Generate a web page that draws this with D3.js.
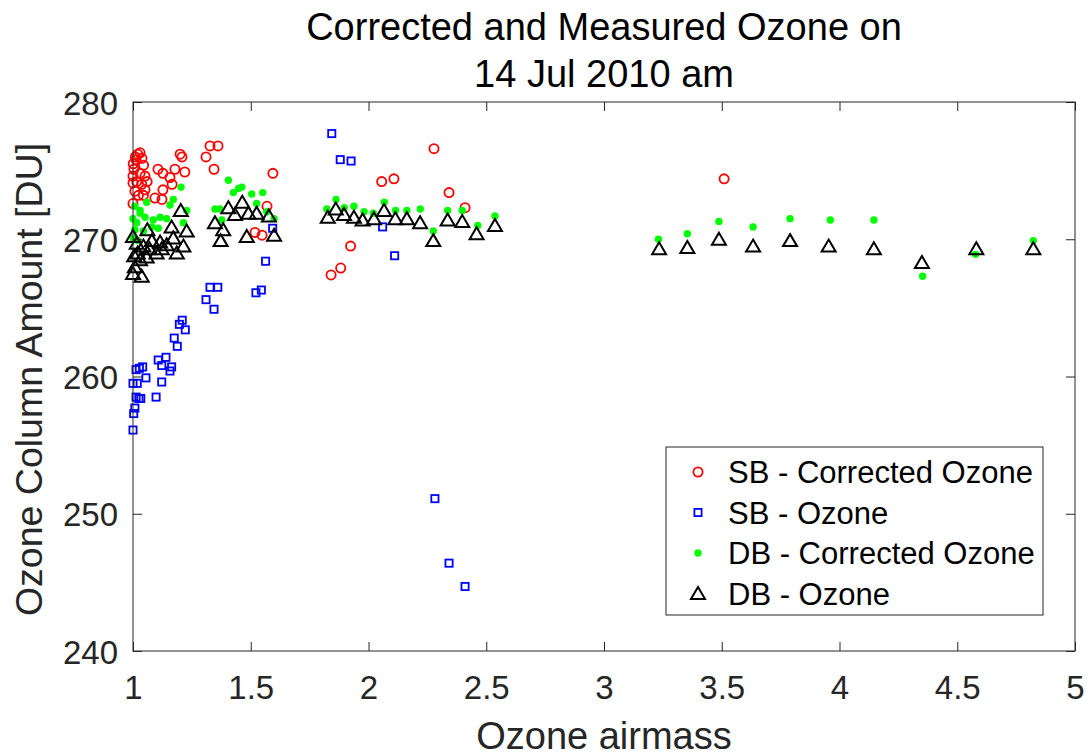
<!DOCTYPE html>
<html><head><meta charset="utf-8">
<script src="https://cdn.jsdelivr.net/npm/d3@7"></script>
<style>body{margin:0;background:#fff}svg text{font-family:"Liberation Sans",Arial,sans-serif}</style>
</head><body><svg id="c" width="1091" height="756"></svg>
<script>
const title = ["Corrected and Measured Ozone on", "14 Jul 2010 am"];
const xTicks = [1,1.5,2,2.5,3,3.5,4,4.5,5];
const yTicks = [240,250,260,270,280];
const seriesNames = ["SB - Corrected Ozone","SB - Ozone","DB - Corrected Ozone","DB - Ozone"];

// SB - Corrected Ozone [airmass, DU]
const sbCorrected = [
[1.327,276.8],[1.361,276.8],[1.31,276.0],[1.344,275.1],[1.594,274.8],[1.2,276.2],[1.208,276.0],
[1.02,276.2],[1.038,275.9],[1.106,275.1],[1.127,274.8],[1.178,275.1],[1.22,274.9],[1.157,274.5],
[1.166,274.0],[1.127,273.6],[1.093,273.0],[1.123,272.9],[1.569,272.4],[1.518,270.5],[1.548,270.3],
[1.0,272.6],[1.013,275.8],[1.001,275.5],[1.004,275.1],[1.03,274.8],[1.051,274.6],[1.016,274.2],
[1.037,274.0],[1.051,273.6],[1.008,273.5],[1.023,273.2],[1.0,274.6],[1.0,274.1],[1.044,273.2],
[1.03,276.3],[1.01,276.0],[1.045,275.4],[1.06,274.2],
[2.278,276.6],[2.056,274.2],[2.108,274.4],[2.342,273.4],[2.41,272.3],[1.924,269.5],[1.882,267.9],
[1.841,267.4],[3.51,274.4]
];
// SB - Ozone
const sbOzone = [
[1.844,277.7],[1.88,275.8],[1.926,275.7],[2.06,270.9],[2.111,268.8],[2.282,251.1],[2.342,246.4],
[2.41,244.7],[1.593,270.8],[1.563,268.4],[1.327,266.5],[1.36,266.5],[1.31,265.6],[1.344,264.9],
[1.522,266.1],[1.545,266.3],[1.209,264.1],[1.197,263.8],[1.222,263.4],[1.175,262.8],[1.188,262.2],
[1.14,261.4],[1.107,261.2],[1.122,260.8],[1.164,260.7],[1.157,260.4],[1.027,260.6],[1.013,260.5],
[1.041,260.7],[1.055,259.9],[1.0,259.5],[1.018,259.5],[1.122,259.6],[1.013,258.5],[1.033,258.4],
[1.098,258.5],[1.008,257.7],[1.003,257.3],[1.0,256.1],[1.025,258.4]
];
// DB - Corrected Ozone
const dbCorrected = [
[1.405,274.3],[1.448,273.7],[1.462,273.8],[1.426,273.4],[1.504,273.3],[1.551,273.4],[1.204,273.8],
[1.171,272.9],[1.157,272.5],[1.058,272.7],[1.008,272.4],[1.348,272.2],[1.369,272.2],[1.228,272.1],
[1.115,271.6],[1.143,271.5],[1.214,271.2],[1.03,271.9],[1.016,271.2],[1.525,272.6],[1.599,271.5],
[1.568,272.0],[1.377,271.4],[1.079,270.9],[1.107,270.8],[1.03,272.1],[1.051,271.6],[1.0,271.5],
[1.086,271.4],[1.008,270.7],[1.044,270.6],[1.0,270.1],[1.02,269.9],
[1.862,272.9],[1.823,272.2],[1.897,272.3],[1.938,272.4],[1.981,272.0],[2.02,271.9],[2.067,272.7],
[2.115,272.1],[2.163,272.1],[2.22,272.2],[2.275,270.6],[2.336,272.1],[2.398,272.1],[2.464,271.0],
[2.537,271.7],
[3.231,270.0],[3.354,270.4],[3.488,271.3],[3.633,270.9],[3.79,271.5],[3.961,271.4],[4.146,271.4],
[4.353,267.3],[4.578,268.9],[4.823,269.9]
];
// DB - Ozone
const dbOzone = [
[3.234,269.3],[3.354,269.4],[3.488,270.0],[3.633,269.5],[3.79,269.9],[3.954,269.5],[4.146,269.3],
[4.35,268.3],[4.581,269.3],[4.823,269.3],
[1.827,271.6],[1.861,272.2],[1.896,271.8],[1.938,271.6],[1.975,271.4],[2.023,271.5],[2.066,272.1],
[2.114,271.5],[2.163,271.5],[2.219,271.2],[2.275,269.9],[2.336,271.4],[2.398,271.3],[2.459,270.4],
[2.537,271.0],
[1.203,272.1],[1.464,272.7],[1.405,272.3],[1.433,271.8],[1.49,271.9],[1.525,271.9],[1.577,271.7],
[1.348,271.2],[1.383,270.7],[1.372,269.9],[1.483,270.2],[1.599,270.3],[1.164,270.9],[1.228,270.6],
[1.061,270.7],[1.171,270.1],[1.214,269.5],[1.008,268.0],[1.037,267.3],[1.0,267.5],[1.03,268.5],
[1.058,268.7],[1.1,269.0],[1.143,269.6],[1.122,269.3],[1.016,269.7],[1.0,270.2],[1.044,269.5],
[1.08,269.9],[1.186,269.0],[1.115,269.8],[1.02,269.0],[1.005,268.8],[1.07,269.3]
];

const svg = d3.select("#c");
const L = 133, R = 1075, T = 102, B = 651;
const x = d3.scaleLinear().domain([1,5]).range([L,R]);
const y = d3.scaleLinear().domain([240,280]).range([B,T]);
const axisCol = "#262626";

// title
svg.selectAll("text.title").data(title).enter().append("text")
  .attr("x", (L+R)/2).attr("y", (d,i)=>40+i*47).attr("text-anchor","middle")
  .attr("font-size", 38).attr("fill","#000").text(d=>d);

const plot = svg.append("g");
function drawMarker(g, k, cx, cy){
  if(k===0) g.append("circle").attr("cx",cx).attr("cy",cy).attr("r",4.6).attr("fill","none").attr("stroke","#ff0000").attr("stroke-width",1.8);
  else if(k===1) g.append("rect").attr("x",cx-3.6).attr("y",cy-3.6).attr("width",7.2).attr("height",7.2).attr("fill","none").attr("stroke","#0000ff").attr("stroke-width",1.8);
  else if(k===2) g.append("circle").attr("cx",cx).attr("cy",cy).attr("r",3.7).attr("fill","#00ff00");
  else g.append("path").attr("d",`M${cx},${cy-6.5}L${cx+7},${cy+5.5}L${cx-7},${cy+5.5}Z`).attr("fill","none").attr("stroke","#000").attr("stroke-width",2).attr("stroke-linejoin","miter");
}
[sbCorrected, sbOzone, dbCorrected, dbOzone].forEach((arr,k)=>{
  const g = plot.append("g");
  arr.forEach(d=>drawMarker(g,k,x(d[0]),y(d[1])));
});

// axes (MATLAB box with inward ticks)
const ax = svg.append("g");
const tf = "Liberation Sans, Arial, sans-serif";
ax.append("g").attr("transform",`translate(0,${B})`)
  .call(d3.axisBottom(x).tickValues(xTicks).tickSize(-9).tickPadding(0).tickFormat(d3.format("")))
  .call(g=>{g.select(".domain").remove();g.selectAll("line").attr("stroke",axisCol);
    g.selectAll("text").attr("font-size",33).attr("fill",axisCol).attr("font-family",tf).attr("y",48).attr("dy",0);});
ax.append("g").attr("transform",`translate(0,${T})`)
  .call(d3.axisTop(x).tickValues(xTicks).tickSize(-9).tickFormat(""))
  .call(g=>{g.select(".domain").remove();g.selectAll("line").attr("stroke",axisCol);});
ax.append("g").attr("transform",`translate(${L},0)`)
  .call(d3.axisLeft(y).tickValues(yTicks).tickSize(-9).tickPadding(15))
  .call(g=>{g.select(".domain").remove();g.selectAll("line").attr("stroke",axisCol);
    g.selectAll("text").attr("font-size",33).attr("fill",axisCol).attr("font-family",tf).attr("x",-15).attr("dy","0.37em");});
ax.append("g").attr("transform",`translate(${R},0)`)
  .call(d3.axisRight(y).tickValues(yTicks).tickSize(-9).tickFormat(""))
  .call(g=>{g.select(".domain").remove();g.selectAll("line").attr("stroke",axisCol);});
ax.append("rect").attr("x",L).attr("y",T).attr("width",R-L).attr("height",B-T)
  .attr("fill","none").attr("stroke",axisCol).attr("stroke-width",1);

// axis labels
svg.append("text").attr("x",(L+R)/2).attr("y",749).attr("text-anchor","middle")
  .attr("font-size",38).attr("fill",axisCol).text("Ozone airmass");
svg.append("text").attr("transform",`translate(42,${(T+B)/2+3}) rotate(-90)`).attr("text-anchor","middle")
  .attr("font-size",37.5).attr("fill",axisCol).text("Ozone Column Amount [DU]");

// legend
const lg = svg.append("g");
lg.append("rect").attr("x",666).attr("y",447).attr("width",377).attr("height",168)
  .attr("fill","#fff").attr("stroke",axisCol).attr("stroke-width",1);
seriesNames.forEach((n,i)=>{
  const cy = 472 + i*40.5;
  drawMarker(lg, i, 698, cy);
  lg.append("text").attr("x",728).attr("y",cy+11).attr("font-size",31).attr("fill","#000").text(n);
});
</script></body></html>
